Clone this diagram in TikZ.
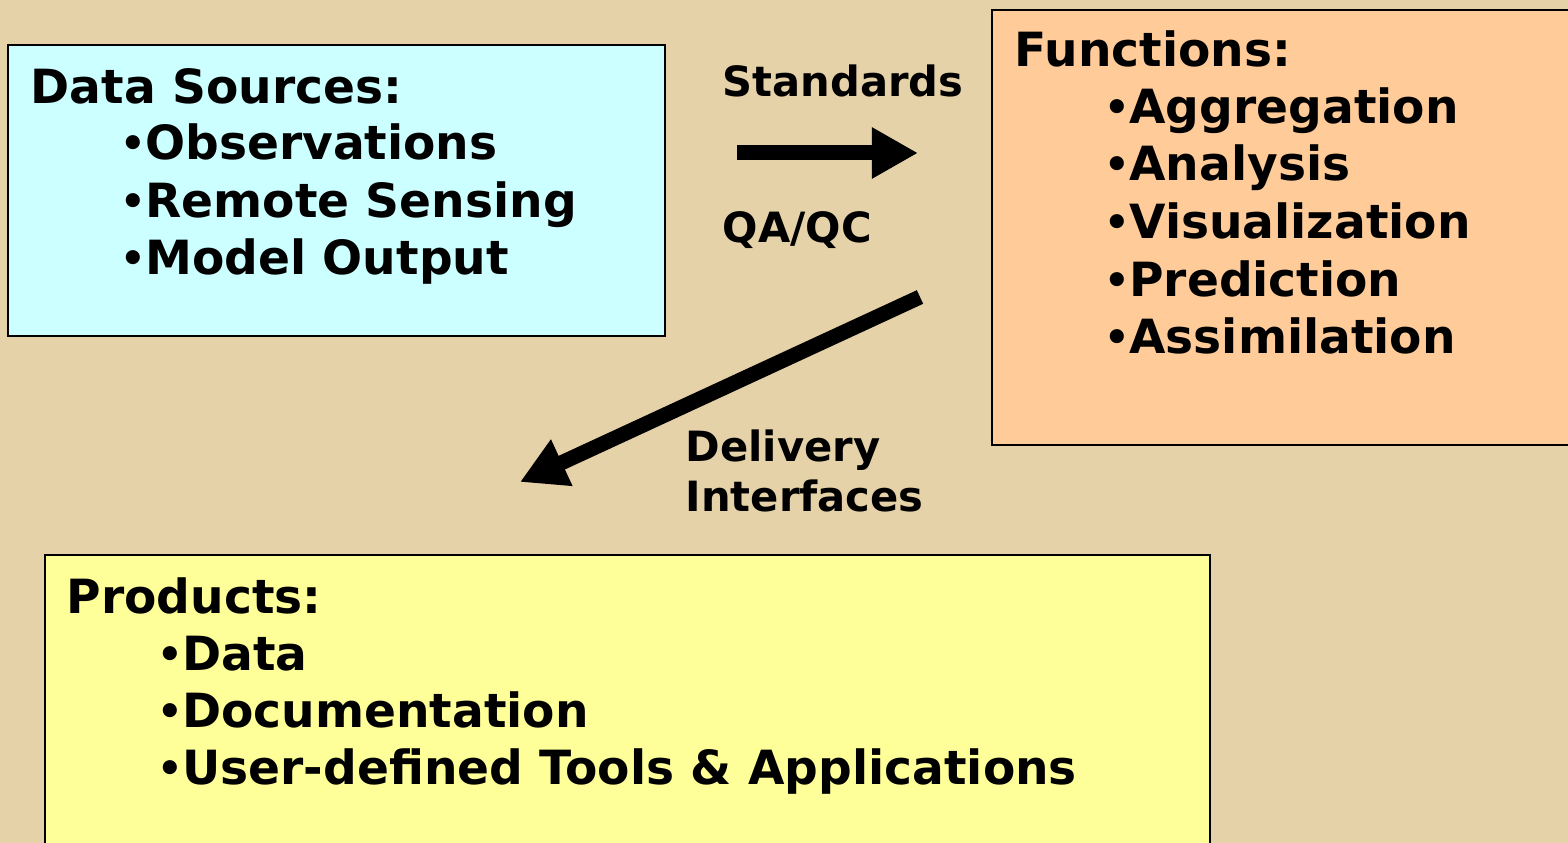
\documentclass[tikz,border=0pt]{standalone}
\usepackage{fontspec}
\setmainfont{DejaVu Sans}
\usetikzlibrary{arrows.meta}
\definecolor{bg}{HTML}{E6D2A8}
\definecolor{cyanbox}{HTML}{CCFFFF}
\definecolor{orangebox}{HTML}{FFCC99}
\definecolor{yellowbox}{HTML}{FFFF99}
\tikzset{
  txt/.style={anchor=base west, inner sep=0pt, font=\fontsize{13.4pt}{16pt}\selectfont\bfseries},
  lbl/.style={anchor=base west, inner sep=0pt, font=\fontsize{11.85pt}{14pt}\selectfont\bfseries},
  boxstyle/.style={draw=black, line width=0.02cm},
  bigarrow/.style={line width=0.15cm, -{Triangle[length=0.46cm, width=0.48cm]}},
}
\newcommand{\bul}{\raisebox{0.06em}{\scalebox{0.85}{\textbullet}}\kern-0.02em}
\begin{document}
\begin{tikzpicture}[x=0.01cm, y=-0.01cm]
\useasboundingbox (0,0) rectangle (1568,843);
\fill[bg] (0,0) rectangle (1568,843);
% boxes
\filldraw[boxstyle, fill=cyanbox] (8,45) rectangle (665,336);
\filldraw[boxstyle, fill=orangebox] (992,10) rectangle (1580,445);
\filldraw[boxstyle, fill=yellowbox] (45,555) rectangle (1210,860);
% data sources
\node[txt] (ds) at (30,104) {Data Sources:};
\node[txt] (ds1) at (120,160) {\bul Observations};
\node[txt] (ds2) at (120,218) {\bul Remote Sensing};
\node[txt] (ds3) at (120,275) {\bul Model Output};
% functions
\node[txt] (fn) at (1014,67) {Functions:};
\node[txt] (fn1) at (1104,124) {\bul Aggregation};
\node[txt] (fn2) at (1104,181) {\bul Analysis};
\node[txt] (fn3) at (1104,239) {\bul Visualization};
\node[txt] (fn4) at (1104,297) {\bul Prediction};
\node[txt] (fn5) at (1104,354) {\bul Assimilation};
% products
\node[txt] (pr) at (66,614) {Products:};
\node[txt] (pr1) at (157,671) {\bul Data};
\node[txt] (pr2) at (157,728) {\bul Documentation};
\node[txt] (pr3) at (157,785) {\bul User-defined Tools \& Applications};
% labels
\node[lbl] (std) at (722,97) {Standards};
\node[lbl] (qa) at (722,243) {QA/QC};
\node[lbl] (del) at (685,462) {Delivery};
\node[lbl] (intf) at (685,512) {Interfaces};
% arrows
\coordinate (a1s) at (737,153);
\coordinate (a1e) at (918,153);
\coordinate (a2s) at (920,297);
\coordinate (a2e) at (520,482);
\draw[bigarrow] (a1s) -- (a1e);
\draw[bigarrow] (a2s) -- (a2e);
\end{tikzpicture}
\end{document}
